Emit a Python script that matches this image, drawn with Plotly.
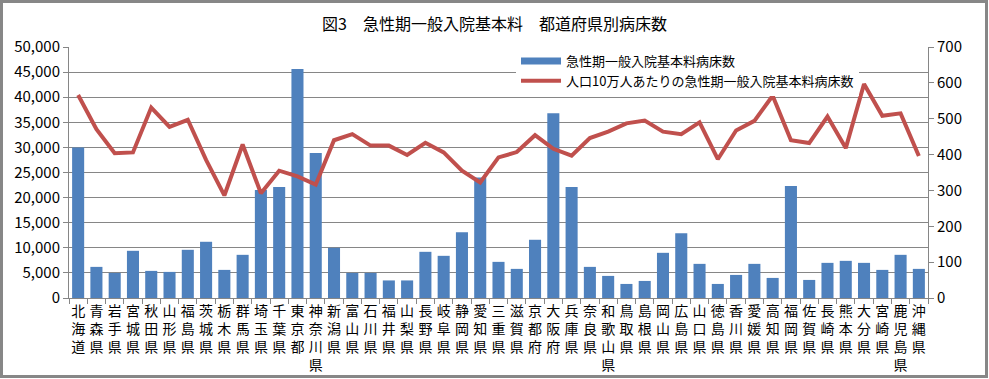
import plotly.graph_objects as go

prefectures = ["北海道", "青森県", "岩手県", "宮城県", "秋田県", "山形県", "福島県", "茨城県", "栃木県", "群馬県",
               "埼玉県", "千葉県", "東京都", "神奈川県", "新潟県", "富山県", "石川県", "福井県", "山梨県", "長野県",
               "岐阜県", "静岡県", "愛知県", "三重県", "滋賀県", "京都府", "大阪府", "兵庫県", "奈良県", "和歌山県",
               "鳥取県", "島根県", "岡山県", "広島県", "山口県", "徳島県", "香川県", "愛媛県", "高知県", "福岡県",
               "佐賀県", "長崎県", "熊本県", "大分県", "宮崎県", "鹿児島県", "沖縄県"]

beds = [30000, 6200, 5000, 9400, 5400, 5200, 9600, 11200, 5600, 8600,
        21500, 22100, 45600, 28900, 10000, 5000, 5000, 3500, 3500, 9200,
        8400, 13100, 24000, 7200, 5800, 11600, 36800, 22100, 6200, 4400,
        2800, 3400, 9000, 12900, 6800, 2800, 4600, 6800, 4000, 22300,
        3600, 7000, 7400, 7000, 5600, 8600, 5800]

beds_per_100k = [566, 471, 404, 406, 531, 477, 497, 385, 286, 428,
                 292, 355, 339, 316, 440, 457, 425, 425, 399, 433,
                 406, 355, 322, 392, 407, 454, 416, 397, 446, 464,
                 487, 495, 464, 457, 490, 387, 467, 494, 564, 440,
                 432, 506, 418, 597, 508, 515, 396]

series_bar = "急性期一般入院基本料病床数"
series_line = "人口10万人あたりの急性期一般入院基本料病床数"
title_text = "図3\u2002\u2002急性期一般入院基本料\u2002\u2002都道府県別病床数"

BLUE = "#4F81BD"
RED = "#C0504D"
GRID = "#868686"
FONT = "Noto Sans CJK JP"

# vertical (stacked) category labels
labels = ["<br>".join(list(p)) for p in prefectures]

fig = go.Figure()
fig.add_trace(go.Bar(x=labels, y=beds, name=series_bar, marker=dict(color=BLUE, line=dict(width=0)),
                     showlegend=False, yaxis="y"))
fig.add_trace(go.Scatter(x=labels, y=beds_per_100k, name=series_line, mode="lines",
                         line=dict(color=RED, width=4), yaxis="y2", showlegend=False))
# legend entries
fig.add_trace(go.Scatter(x=[None], y=[None], name=series_bar, mode="lines",
                         line=dict(color=BLUE, width=7), yaxis="y"))
fig.add_trace(go.Scatter(x=[None], y=[None], name=series_line, mode="lines",
                         line=dict(color=RED, width=4), yaxis="y2"))

W, H = 989, 379
L, R, T, B = 69, 61, 47, 81
pw, ph = W - L - R, H - T - B

def px_x(p):
    return (p - L) / pw

def px_y(p):
    return (H - B - p) / ph

fig.update_layout(
    width=W, height=H,
    margin=dict(l=L, r=R, t=T, b=B, autoexpand=False),
    paper_bgcolor="white", plot_bgcolor="white",
    font=dict(family=FONT, color="#000000", size=14),
    title=dict(text=title_text, x=0.5, xref="container", xanchor="center",
               y=1 - 24 / H, yref="container", yanchor="middle",
               font=dict(size=16, family=FONT, color="#000000")),
    bargap=0.34,
    xaxis=dict(type="category", tickson="boundaries", ticks="outside", ticklen=5, tickcolor=GRID,
               showline=True, linecolor=GRID, linewidth=1, tickangle=0, showgrid=False, automargin=False,
               tickfont=dict(size=14, family=FONT, color="#000000")),
    yaxis=dict(range=[0, 50000], dtick=5000, tickformat=",d", showgrid=True, gridcolor=GRID, gridwidth=1,
               showline=True, linecolor=GRID, ticks="outside", ticklen=5, tickcolor=GRID, zeroline=False,
               automargin=False, tickfont=dict(size=15, family=FONT, color="#000000")),
    yaxis2=dict(range=[0, 700], dtick=100, overlaying="y", side="right", showgrid=False,
                showline=True, linecolor=GRID, ticks="outside", ticklen=5, tickcolor=GRID, zeroline=False,
                automargin=False, tickfont=dict(size=15, family=FONT, color="#000000")),
    legend=dict(x=px_x(516), y=px_y(46), xanchor="left", yanchor="top", bgcolor="white",
                borderwidth=0, font=dict(size=13, family=FONT, color="#000000"),
                tracegroupgap=0, itemwidth=40),
    shapes=[dict(type="rect", xref="paper", yref="paper",
                 x0=px_x(1.5), x1=px_x(W - 2.5), y0=px_y(H - 2.5), y1=px_y(1.5),
                 line=dict(color="#878787", width=3), fillcolor="rgba(0,0,0,0)", layer="above")],
)

fig.write_html("out.html", config={"displayModeBar": False},
               post_script="document.body.style.margin='0px';document.body.style.overflow='hidden';")
